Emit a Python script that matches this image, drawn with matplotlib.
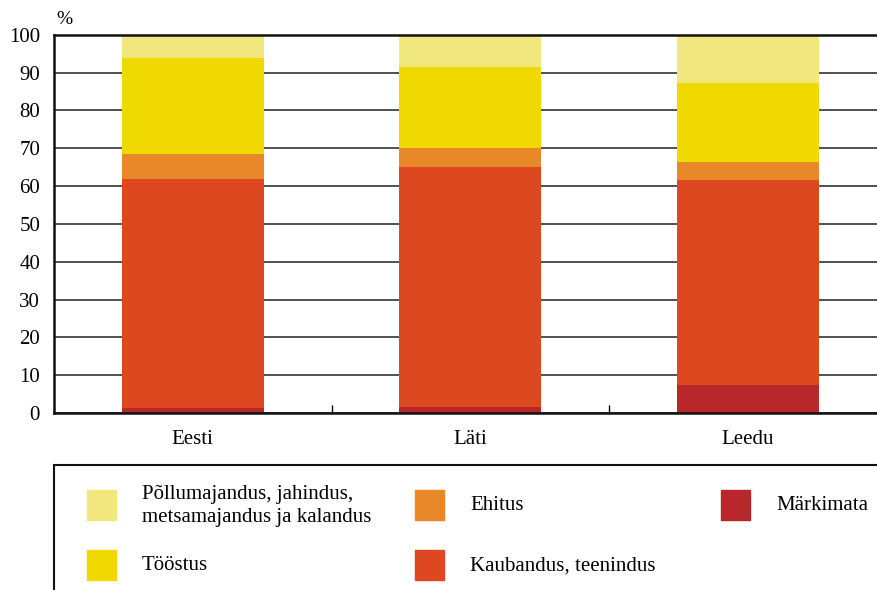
import numpy as np
import matplotlib
matplotlib.use('Agg')
import matplotlib.pyplot as plt
from matplotlib.patches import Rectangle

# andmed (%), loetud jooniselt
riigid = ['Eesti', 'Läti', 'Leedu']
markimata = [1.3, 1.5, 7.3]
kaubandus = [60.5, 63.5, 54.3]
ehitus = [6.6, 5.0, 4.7]
toostus = [25.4, 21.5, 20.9]
pollumajandus = [6.2, 8.5, 12.8]

sektorid = ['Märkimata', 'Kaubandus, teenindus', 'Ehitus', 'Tööstus',
            'Põllumajandus, jahindus,\nmetsamajandus ja kalandus']
vaartused = [markimata, kaubandus, ehitus, toostus, pollumajandus]
varvid = ['#B8282A', '#DE4820', '#E88828', '#EFD900', '#F0E87E']

plt.rcParams['font.family'] = ['Liberation Serif', 'DejaVu Serif']

fig = plt.figure(figsize=(8.77, 5.90), dpi=100)
ax = fig.add_axes([54 / 877, 1 - 413 / 590, 832.5 / 877, (413 - 34.7) / 590])

x = np.arange(len(riigid))
pohi = np.zeros(len(riigid))
for nimi, v, c in zip(sektorid, vaartused, varvid):
    ax.bar(x, v, width=0.51, bottom=pohi, color=c, zorder=2, linewidth=0)
    pohi += np.array(v)

ax.set_xlim(-0.5, 2.5)
ax.set_ylim(0, 100)
ax.set_yticks(range(0, 101, 10))
ax.tick_params(axis='y', length=0, labelsize=15, pad=10)
ax.yaxis.grid(True, color='#333333', linewidth=1.2, zorder=0)
ax.set_axisbelow(True)

ax.set_xticks([0.5, 1.5])
ax.set_xticklabels([])
ax.tick_params(axis='x', which='major', direction='in', length=6, width=1)
ax.set_xticks(x, minor=True)
ax.set_xticklabels(riigid, minor=True)
ax.tick_params(axis='x', which='minor', length=0, labelsize=15, pad=12)

for s in ['left', 'bottom', 'top']:
    ax.spines[s].set_linewidth(1.8)
    ax.spines[s].set_color('#111111')
ax.spines['right'].set_visible(False)

fig.text(56 / 877, 1 - 20 / 590, '%', fontsize=14, ha='left', va='center')

# legend, drawn by hand in figure pixels
fig.patches.append(Rectangle((54 / 877, -0.1), 1.0, 1 - 465 / 590 + 0.1,
                             transform=fig.transFigure, fill=False,
                             edgecolor='#111111', linewidth=1.5))
kohad = [(87, 490, 142), (87, 550, 142), (415, 490, 470),
         (415, 550, 470), (721, 490, 776)]
jarjekord = [4, 3, 2, 1, 0]
for (px, py, tx), i in zip(kohad, jarjekord):
    fig.patches.append(Rectangle((px / 877, 1 - (py + 30) / 590), 29 / 877, 30 / 590,
                                 transform=fig.transFigure, color=varvid[i]))
    fig.text(tx / 877, 1 - (py + 16) / 590, sektorid[i], fontsize=15,
             ha='left', va='center', linespacing=1.25)

fig.savefig('out.png', dpi=100)
